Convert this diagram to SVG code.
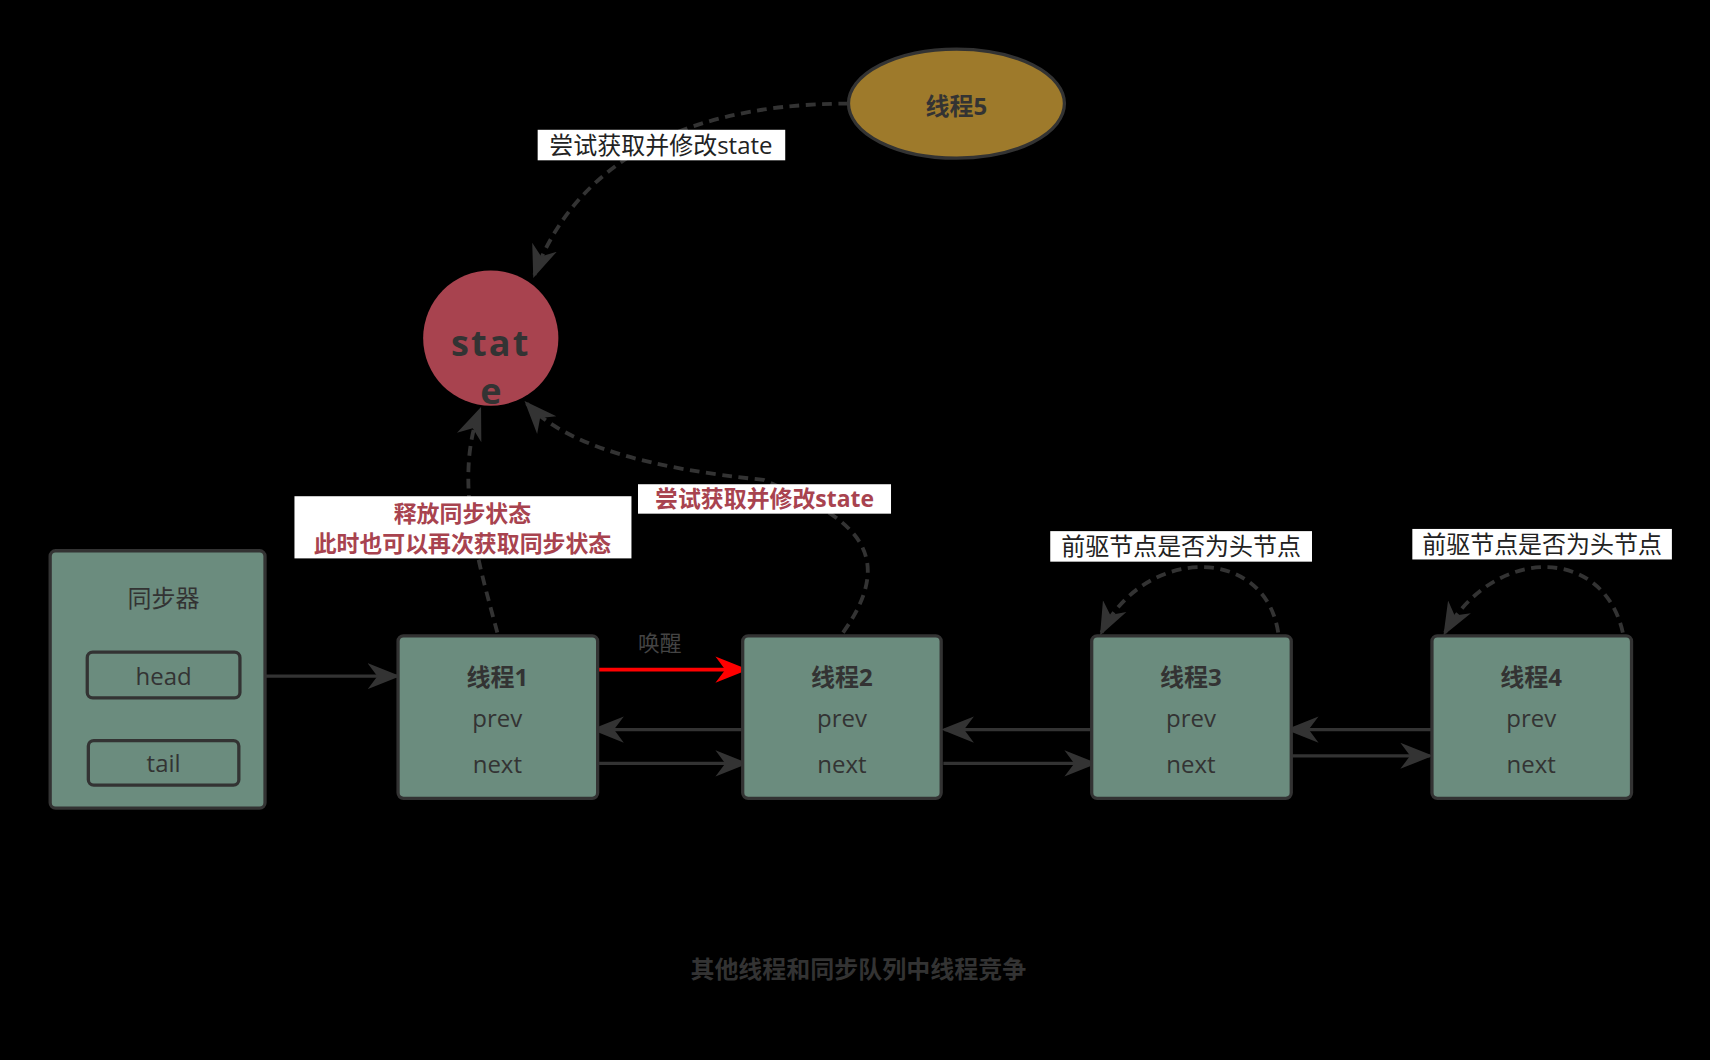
<svg xmlns="http://www.w3.org/2000/svg" width="1710" height="1060" viewBox="0 0 1710 1060">
<defs>
<style>
.n{fill:#6B8C7E;stroke:#333;stroke-width:3}
.t{font-family:"Open Sans","Noto Sans CJK SC",sans-serif;fill:#333;text-anchor:middle}
.b{font-weight:bold}
.l{stroke:#333;stroke-width:3;fill:none}
.d{stroke:#333;stroke-width:3.5;fill:none;stroke-dasharray:9 6}
.lb{fill:#fff}
</style>
<marker id="a" viewBox="0 0 10 10" refX="9" refY="5" markerWidth="7" markerHeight="7" orient="auto" markerUnits="userSpaceOnUse"><path d="M0,0L10,5L0,10L3,5z" fill="#333"/></marker>
<marker id="ah" viewBox="0 0 10 10" refX="9" refY="5" markerWidth="30" markerHeight="30" orient="auto" markerUnits="userSpaceOnUse"><path d="M0,1L10,5L0,9L3,5z" fill="#333"/></marker>
<marker id="ar" viewBox="0 0 10 10" refX="9" refY="5" markerWidth="30" markerHeight="30" orient="auto" markerUnits="userSpaceOnUse"><path d="M0,1L10,5L0,9L3,5z" fill="#f00"/></marker>
</defs>
<rect width="1710" height="1060" fill="#000"/>
<g transform="scale(1.0906)">
<g id="connectors">
<path class="d" d="M778,95 C600,95 520,170 490,252" marker-end="url(#ah)"/>
<path class="d" d="M456,580 C440,520 415,440 440,376" marker-end="url(#ah)"/>
<path class="d" d="M773,580 C830,500 770,470 700,440 C600,430 520,410 483,370" marker-end="url(#ah)"/>
<path class="d" d="M1172,580 C1160,500 1050,500 1010,580" marker-end="url(#ah)"/>
<path class="d" d="M1488,580 C1470,500 1370,500 1325,580" marker-end="url(#ah)"/>
<path class="l" d="M220,620H364" marker-end="url(#ah)"/>
<path d="M219,700L245,718" stroke="#000" stroke-width="3"/>
<path d="M548,614H683" stroke="#f00" stroke-width="3.5" marker-end="url(#ar)"/>
<path class="l" d="M685,669H545" marker-end="url(#ah)"/>
<path class="l" d="M1005,669H866" marker-end="url(#ah)"/>
<path class="l" d="M1317,669H1182" marker-end="url(#ah)"/>
<path class="l" d="M545,700H683" marker-end="url(#ah)"/>
<path class="l" d="M865,700H1003" marker-end="url(#ah)"/>
<path class="l" d="M1184,693H1311" marker-end="url(#ah)"/>
<rect class="lb" x="493" y="119" width="227" height="28"/>
<text class="t" x="606" y="141" font-size="22" fill="#222" style="fill:#222">尝试获取并修改state</text>
<rect class="lb" x="270" y="455" width="309" height="57"/>
<text class="t b" x="424" y="479" font-size="21" style="fill:#A8434F">释放同步状态</text>
<text class="t b" x="424" y="506" font-size="21" style="fill:#A8434F">此时也可以再次获取同步状态</text>
<rect class="lb" x="585" y="444" width="232" height="27"/>
<text class="t b" x="701" y="465" font-size="21" style="fill:#A8434F">尝试获取并修改state</text>
<rect class="lb" x="963" y="487" width="240" height="28"/>
<text class="t" x="1083" y="509" font-size="22" style="fill:#222">前驱节点是否为头节点</text>
<rect class="lb" x="1295" y="485" width="238" height="28"/>
<text class="t" x="1414" y="507" font-size="22" style="fill:#222">前驱节点是否为头节点</text>
<text class="t" x="605" y="597" font-size="20" style="fill:#444">唤醒</text>
</g>
<g id="thread5"><ellipse cx="877" cy="95" rx="99" ry="50" fill="#9E7A2B" stroke="#333" stroke-width="3"/><text class="t b" x="877" y="105" font-size="22">线程5</text></g>
<g id="state"><circle cx="450" cy="310" r="62" fill="#A8434F"/><text class="t b" x="450" y="326" font-size="33" letter-spacing="2">stat</text><text class="t b" x="450" y="370" font-size="33">e</text></g>
<g id="sync"><rect class="n" x="46" y="505" width="197" height="236" rx="5"/><text class="t" x="150" y="557" font-size="22">同步器</text>
<rect class="n" x="80" y="598" width="140" height="42" rx="5"/><text class="t" x="150" y="628" font-size="22">head</text>
<rect class="n" x="81" y="679" width="138" height="41" rx="5"/><text class="t" x="150" y="708" font-size="22">tail</text></g>
<g id="t1"><rect class="n" x="365" y="583" width="183" height="149" rx="5"/><text class="t b" x="456" y="629" font-size="22">线程1</text><text class="t" x="456" y="667" font-size="22">prev</text><text class="t" x="456" y="709" font-size="22">next</text></g>
<g id="t2"><rect class="n" x="681" y="583" width="182" height="149" rx="5"/><text class="t b" x="772" y="629" font-size="22">线程2</text><text class="t" x="772" y="667" font-size="22">prev</text><text class="t" x="772" y="709" font-size="22">next</text></g>
<g id="t3"><rect class="n" x="1001" y="583" width="183" height="149" rx="5"/><text class="t b" x="1092" y="629" font-size="22">线程3</text><text class="t" x="1092" y="667" font-size="22">prev</text><text class="t" x="1092" y="709" font-size="22">next</text></g>
<g id="t4"><rect class="n" x="1313" y="583" width="183" height="149" rx="5"/><text class="t b" x="1404" y="629" font-size="22">线程4</text><text class="t" x="1404" y="667" font-size="22">prev</text><text class="t" x="1404" y="709" font-size="22">next</text></g>
<text class="t b" x="787" y="897" font-size="22">其他线程和同步队列中线程竞争</text>
</g>
</svg>
